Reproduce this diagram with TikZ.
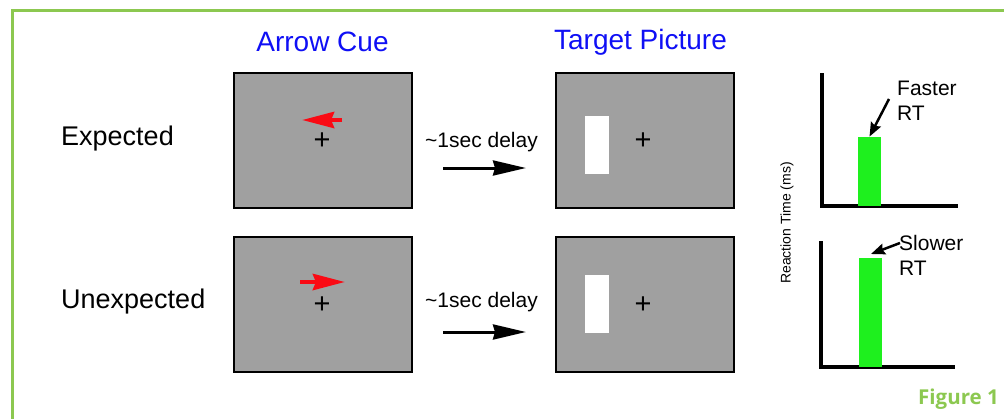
\documentclass[tikz,border=0pt]{standalone}
\usepackage{fontspec}
\setmainfont{Liberation Sans}
\newfontfamily\figfont{Open Sans}
\usetikzlibrary{arrows.meta}
\definecolor{framegreen}{RGB}{140,200,80}
\definecolor{screengray}{RGB}{160,160,160}
\definecolor{cuered}{RGB}{250,10,20}
\definecolor{titleblue}{RGB}{15,15,245}
\definecolor{bargreen}{RGB}{30,240,30}

\tikzset{
  screen/.style={draw=black, line width=2pt, fill=screengray, minimum width=178pt, minimum height=135pt, inner sep=0pt},
  target/.style={fill=white, draw=none, minimum width=24pt, minimum height=58pt, inner sep=0pt},
  fix/.style={font=\fontsize{29}{33}\selectfont, inner sep=0pt},
  rowlabel/.style={anchor=west, font=\fontsize{27}{32}\selectfont, inner sep=0pt},
  title/.style={text=titleblue, font=\fontsize{28}{33}\selectfont, inner sep=0pt},
  delay/.style={font=\fontsize{21}{25}\selectfont, inner sep=0pt},
  note/.style={anchor=west, font=\fontsize{21}{25}\selectfont, inner sep=0pt},
  cuearrow/.style={cuered, line width=4.5pt, -{Stealth[length=32pt,width=16pt,inset=3pt]}},
  delayarrow/.style={black, line width=3pt, -{Stealth[length=33pt,width=15pt,inset=2pt]}},
  axis/.style={black, line width=3.5pt, line cap=rect},
  bar/.style={fill=bargreen, draw=none, inner sep=0pt, minimum width=23pt, anchor=south},
  pointer/.style={black, line width=2.5pt, -{Stealth[length=14pt,width=11pt,inset=2pt]}}
}

\begin{document}
\begin{tikzpicture}[x=1pt, y=-1pt]
\useasboundingbox (0,0) rectangle (1004,418);

% frame
\draw[framegreen, line width=3pt] (12.5,440) -- (12.5,10) -- (1020,10);

% column titles
\node[title] (tcue) at (322.5,42) {Arrow Cue};
\node[title] (ttarget) at (640.5,42) {Target Picture};

% row labels
\node[rowlabel] (lexp) at (61,139) {Expected};
\node[rowlabel] (lunexp) at (61,302) {Unexpected};

% cue screens
\node[screen] (cue1) at (323,140.5) {};
\node[screen] (cue2) at (323,304.5) {};
\node[fix] (fixc1) at (322,141) {+};
\node[fix] (fixc2) at (322,305) {+};
\coordinate (c1tail) at (342,120);
\coordinate (c1tip) at (302,120);
\coordinate (c2tail) at (300,282);
\coordinate (c2tip) at (345,282);
\draw[cuearrow] (c1tail) -- (c1tip);
\draw[cuearrow] (c2tail) -- (c2tip);

% delays
\node[delay] (d1) at (481.5,142) {\textasciitilde 1sec delay};
\node[delay] (d2) at (481.5,302) {\textasciitilde 1sec delay};
\coordinate (a1s) at (443,168);
\coordinate (a1e) at (526,168);
\coordinate (a2s) at (443,332);
\coordinate (a2e) at (526,332);
\draw[delayarrow] (a1s) -- (a1e);
\draw[delayarrow] (a2s) -- (a2e);

% target screens
\node[screen] (tgt1) at (645,140.5) {};
\node[screen] (tgt2) at (645,304.5) {};
\node[target] (w1) at (597,145) {};
\node[target] (w2) at (597,304) {};
\node[fix] (fixt1) at (643,141) {+};
\node[fix] (fixt2) at (643,305) {+};

% reaction time charts
\node[rotate=90, font=\fontsize{14}{17}\selectfont, inner sep=0pt] (ylab) at (787,223) {Reaction Time (ms)};

\coordinate (o1) at (822,206);
\draw[axis] (822,75) -- (o1) -- (956,206);
\node[bar, minimum height=69pt] (bar1) at (869.5,206) {};
\coordinate (p1) at (889,99);
\draw[pointer] (p1) -- (bar1.north);
\node[note] (fast) at (897,88) {Faster};
\node[note] (fastrt) at (897,113) {RT};

\coordinate (o2) at (821,367);
\draw[axis] (821,243) -- (o2) -- (953,367);
\node[bar, minimum height=109pt] (bar2) at (870,367) {};
\coordinate (p2) at (900,243);
\coordinate (p2e) at (871,254);
\draw[pointer] (p2) -- (p2e);
\node[note] (slow) at (899,243) {Slower};
\node[note] (slowrt) at (899,268) {RT};

% caption
\node[anchor=east, text=framegreen, font=\figfont\fontsize{20.5}{24}\selectfont\bfseries, inner sep=0pt] (fig) at (999,399) {Figure 1};
\end{tikzpicture}
\end{document}
